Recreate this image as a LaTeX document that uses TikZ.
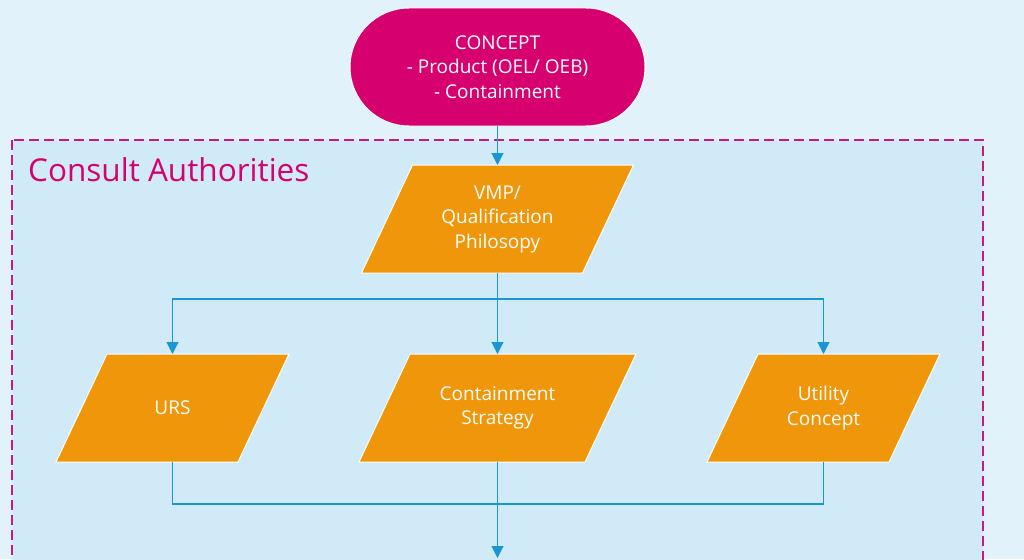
\documentclass[tikz,border=0pt]{standalone}
\usepackage{fontspec}
\setmainfont{Open Sans}
\usetikzlibrary{arrows.meta,calc}
\definecolor{bgouter}{HTML}{E2F2FA}
\definecolor{bginner}{HTML}{D0EBF7}
\definecolor{cmag}{HTML}{D6006E}
\definecolor{corange}{HTML}{F0960A}
\definecolor{cblue}{HTML}{1A96D4}
\definecolor{cdash}{HTML}{C81A78}
\pgfdeclarelayer{back}
\pgfdeclarelayer{shapes}
\pgfsetlayers{back,shapes,main}
\newcommand\pgramshape[1]{%
  \draw[pgramfill] ($(#1.south west)+(-25.5,0)$) -- ($(#1.south east)+(-25.5,0)$)
    -- ($(#1.north east)+(25.5,0)$) -- ($(#1.north west)+(25.5,0)$) -- cycle;}
\begin{document}
\begin{tikzpicture}[x=1pt,y=-1pt,
  concept/.style={draw=white,line width=1pt,fill=cmag,rounded corners=59pt,
    minimum width=295pt,minimum height=118pt,text=white,align=center,
    font=\fontsize{19}{24.5}\selectfont,inner sep=0pt,outer sep=0pt},
  pgram/.style={rectangle,minimum height=108pt,text=white,
    align=center,font=\fontsize{19}{24.5}\selectfont,inner sep=0pt,outer sep=0pt},
  pgramfill/.style={draw=white,line width=1pt,fill=corange,line join=miter},
  cline/.style={draw=cblue,line width=1.1pt},
  conn/.style={cline,-{Triangle[width=12pt,length=12pt]}},
  region/.style={draw=cdash,line width=1.1pt,dash pattern=on 10pt off 5pt,fill=bginner},
  regionlabel/.style={text=cmag,font=\fontsize{31.5}{34}\selectfont,inner sep=0pt,anchor=base west}
]
\useasboundingbox (0,0) rectangle (1024,559);
\begin{pgfonlayer}{back}
\fill[bgouter] (0,0) rectangle (1024,559);
\draw[region] (12,140) rectangle (983,600);
\end{pgfonlayer}
\node[regionlabel] (lbl) at (28,181) {Consult Authorities};

\node[concept] (concept) at (497.5,67) {CONCEPT\\- Product (OEL/ OEB)\\- Containment};
\node[pgram,minimum width=221pt] (vmp) at (497.5,219) {VMP/\\Qualification\\Philosopy};
\node[pgram,minimum width=182pt] (urs) at (172.5,408) {URS};
\node[pgram,minimum width=226pt] (cont) at (497.5,408) {Containment\\Strategy};
\node[pgram,minimum width=182pt] (util) at (823.5,408) {Utility\\Concept};

\begin{pgfonlayer}{shapes}
\pgramshape{vmp}
\pgramshape{urs}
\pgramshape{cont}
\pgramshape{util}
\end{pgfonlayer}

\coordinate (br) at (497.5,299);
\coordinate (mg) at (497.5,504);
\coordinate (out) at (497.5,558);

\draw[conn] (concept.south) -- (vmp.north);
\draw[conn] (vmp.south) -- (cont.north);
\draw[conn] (br) -| (urs.north);
\draw[conn] (br) -| (util.north);
\draw[cline] (urs.south) |- (util.south |- mg) -- (util.south);
\draw[conn] (cont.south) -- (out);
\end{tikzpicture}
\end{document}
